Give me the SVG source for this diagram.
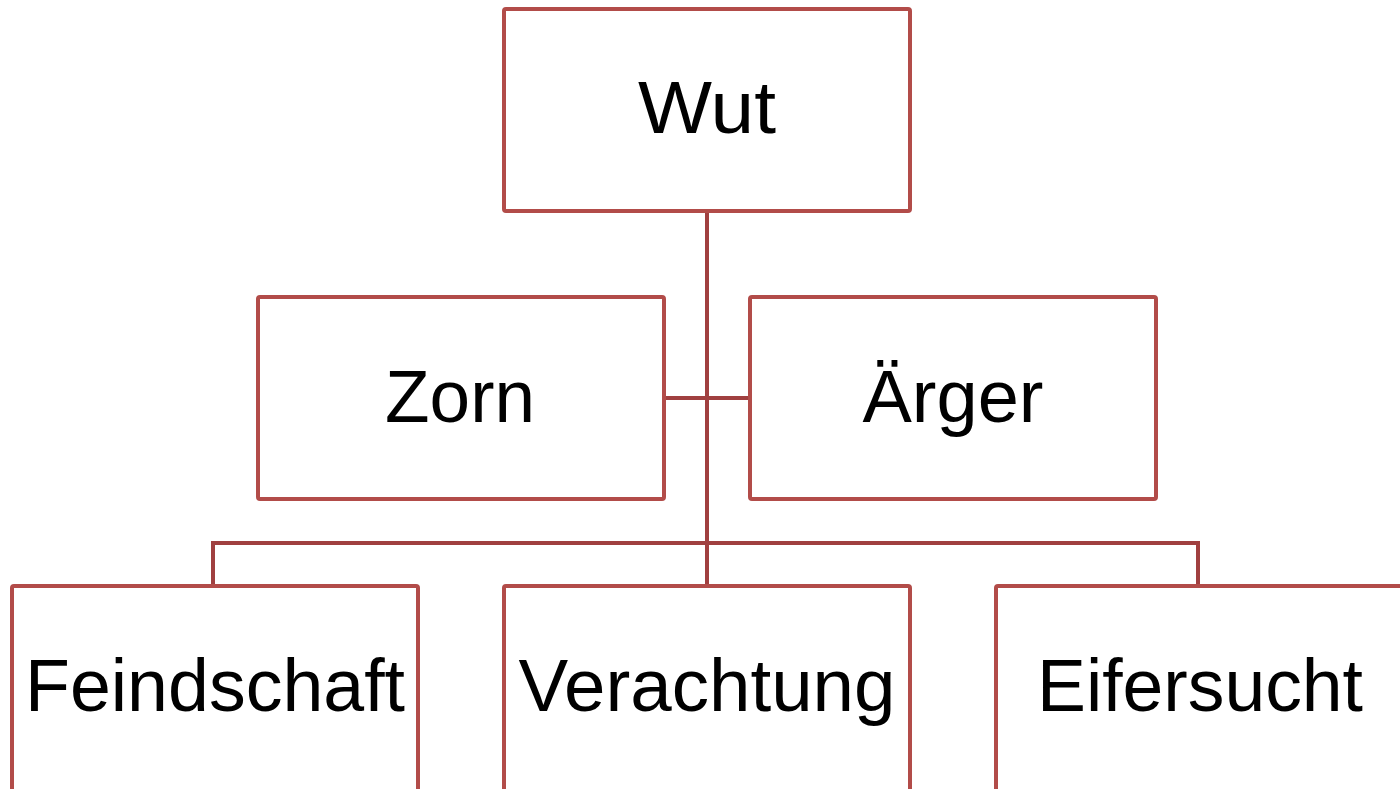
<svg xmlns="http://www.w3.org/2000/svg" width="1400" height="789" viewBox="0 0 1400 789">
<style>
.box{fill:#FFFFFF;stroke:#B24C49;stroke-width:4}
.lbl{font-family:"Liberation Sans",Arial,sans-serif;font-size:74px;fill:#000000;text-anchor:middle}
.con{fill:none;stroke:#A04040;stroke-width:4;stroke-linejoin:miter}
</style>
<rect width="1400" height="789" fill="#FFFFFF"/>
<g id="connectors">
<path class="con" d="M707 211 V586"/>
<path class="con" d="M664 398 H750"/>
<path class="con" d="M213 586 V543 H1198 V586"/>
</g>
<g id="wut"><rect class="box" x="504" y="9" width="406" height="202" rx="2"/><text class="lbl" x="707" y="133" textLength="138" lengthAdjust="spacingAndGlyphs">Wut</text></g>
<g id="zorn"><rect class="box" x="258" y="297" width="406" height="202" rx="2"/><text class="lbl" x="460" y="422" textLength="150" lengthAdjust="spacingAndGlyphs">Zorn</text></g>
<g id="aerger"><rect class="box" x="750" y="297" width="406" height="202" rx="2"/><text class="lbl" x="953" y="422" textLength="181" lengthAdjust="spacingAndGlyphs">Ärger</text></g>
<g id="feindschaft"><rect class="box" x="12" y="586" width="406" height="210" rx="2"/><text class="lbl" x="215" y="711" textLength="380" lengthAdjust="spacingAndGlyphs">Feindschaft</text></g>
<g id="verachtung"><rect class="box" x="504" y="586" width="406" height="210" rx="2"/><text class="lbl" x="707" y="711" textLength="377" lengthAdjust="spacingAndGlyphs">Verachtung</text></g>
<g id="eifersucht"><rect class="box" x="996" y="586" width="406" height="210" rx="2"/><text class="lbl" x="1200" y="711" textLength="326" lengthAdjust="spacingAndGlyphs">Eifersucht</text></g>
</svg>
